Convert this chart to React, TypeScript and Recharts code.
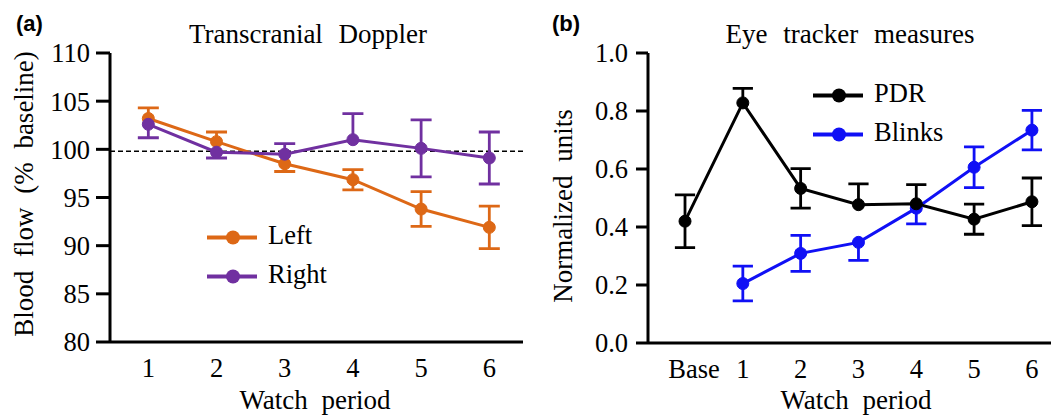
import React from 'react';
import { LineChart, Line, XAxis, YAxis, ReferenceLine, Legend } from 'recharts';

const SERIF = '"Liberation Serif", "Times New Roman", Times, serif';
const SANS = '"Liberation Sans", Arial, Helvetica, sans-serif';

const ORANGE = '#DD6816';
const PURPLE = '#7030A0';
const BLUE = '#1010F5';
const BLACK = '#000000';

// ---------- Panel (a): Transcranial Doppler ----------
const periodsA = [1, 2, 3, 4, 5, 6];
const yTicksA = [80, 85, 90, 95, 100, 105, 110];
const leftMean = [103.2, 100.8, 98.5, 96.85, 93.8, 91.9];
const leftErrUp = [1.1, 1.0, 0, 1.05, 1.8, 2.2];
const leftErrDown = [0, 0, 0.8, 1.05, 1.8, 2.2];
const rightMean = [102.6, 99.7, 99.5, 101.0, 100.1, 99.1];
const rightErrUp = [0, 0, 1.1, 2.7, 2.95, 2.7];
const rightErrDown = [1.4, 0.6, 0, 0, 2.95, 2.7];
const baselineA = 99.8;

// ---------- Panel (b): Eye tracker measures ----------
const periodsB = [0, 1, 2, 3, 4, 5, 6];
const periodLabelsB = ['Base', '1', '2', '3', '4', '5', '6'];
const yTicksB = [0, 0.2, 0.4, 0.6, 0.8, 1.0];
const pdrMean = [0.42, 0.828, 0.533, 0.477, 0.48, 0.427, 0.487];
const pdrErrUp = [0.091, 0.05, 0.068, 0.072, 0.066, 0.052, 0.082];
const pdrErrDown = [0.091, 0, 0.068, 0, 0, 0.052, 0.082];
const blinksMean: (number | null)[] = [null, 0.205, 0.309, 0.347, 0.465, 0.606, 0.734];
const blinksErrUp = [0, 0.06, 0.062, 0, 0, 0.07, 0.068];
const blinksErrDown = [0, 0.06, 0.062, 0.062, 0.054, 0.07, 0.068];

type Pt = { x: number; y: number | null };

function seriesPoints(xs: number[], ys: (number | null)[]): Pt[] {
  return xs.map((x, i) => ({ x, y: ys[i] }));
}

function errorBarPaths(
  xs: number[],
  ys: (number | null)[],
  up: number[],
  down: number[],
  cap: number
): Pt[][] {
  const out: Pt[][] = [];
  xs.forEach((x, i) => {
    const m = ys[i];
    if (m == null) return;
    const pts: Pt[] = [];
    if (up[i] > 0) {
      const t = m + up[i];
      pts.push({ x: x - cap, y: t }, { x: x + cap, y: t }, { x, y: t });
    }
    pts.push({ x, y: m });
    if (down[i] > 0) {
      const b = m - down[i];
      pts.push({ x, y: b }, { x: x - cap, y: b }, { x: x + cap, y: b });
    }
    if (pts.length > 1) out.push(pts);
  });
  return out;
}

const CAP_A = 0.154;
const CAP_B = 0.175;

const errA = [
  ...errorBarPaths(periodsA, leftMean, leftErrUp, leftErrDown, CAP_A).map((p) => ({ pts: p, color: ORANGE })),
  ...errorBarPaths(periodsA, rightMean, rightErrUp, rightErrDown, CAP_A).map((p) => ({ pts: p, color: PURPLE })),
];
const errB = [
  ...errorBarPaths(periodsB, blinksMean, blinksErrUp, blinksErrDown, CAP_B).map((p) => ({ pts: p, color: BLUE })),
  ...errorBarPaths(periodsB, pdrMean, pdrErrUp, pdrErrDown, CAP_B).map((p) => ({ pts: p, color: BLACK })),
];

const TICK_FS = 26.5;
const axisLineStyle = { stroke: '#000', strokeWidth: 3 };
const tickTextStyle = { fontSize: TICK_FS, fontFamily: SERIF, fill: '#000' };

const makeXTick = (labels?: string[], ticks?: number[]) => (props: any) => {
  const { x, y, payload } = props;
  const v = payload.value as number;
  let text = String(v);
  if (labels && ticks) {
    const idx = ticks.indexOf(v);
    if (idx >= 0) text = labels[idx];
  }
  const dx = labels && v === 0 ? 9 : 0;
  return (
    <text x={x + dx} y={y} dy="0.71em" textAnchor="middle" fontFamily={SERIF} fontSize={TICK_FS} fill="#000">
      {text}
    </text>
  );
};

const makeLegend = (order: string[]) => (props: any) => {
  const payload = (props.payload || []).filter((e: any) => order.includes(e.value));
  payload.sort((a: any, b: any) => order.indexOf(a.value) - order.indexOf(b.value));
  return (
    <div>
      {payload.map((e: any) => (
        <div key={e.value} style={{ display: 'flex', alignItems: 'center', height: 39 }}>
          <svg width={50} height={39} style={{ display: 'block' }}>
            <line x1={0} x2={50} y1={19.5} y2={19.5} stroke={e.color} strokeWidth={4} />
            <circle cx={26} cy={19.5} r={7} fill={e.color} />
          </svg>
          <span
            style={{
              marginLeft: 11,
              fontFamily: SERIF,
              fontSize: 26.5,
              color: '#000',
              lineHeight: '39px',
              position: 'relative',
              top: -2,
            }}
          >
            {e.value}
          </span>
        </div>
      ))}
    </div>
  );
};

const mainDot = (c: string) => ({ r: 6, fill: c, stroke: c, strokeWidth: 1 });

function ChartA() {
  return (
    <LineChart width={530} height={415} margin={{ top: 53, right: 7, bottom: 0, left: 0 }}>
      <XAxis
        type="number"
        dataKey="x"
        domain={[0.438, 6.494]}
        allowDataOverflow
        ticks={periodsA}
        interval={0}
        height={73}
        tickLine={false}
        tickSize={6}
        tickMargin={10}
        axisLine={axisLineStyle}
        tick={makeXTick()}
      />
      <YAxis
        type="number"
        domain={[80, 110]}
        allowDataOverflow
        ticks={yTicksA}
        interval={0}
        width={110}
        tickSize={14}
        tickMargin={6}
        tickLine={axisLineStyle}
        axisLine={axisLineStyle}
        tick={tickTextStyle}
      />
      <ReferenceLine y={baselineA} stroke="#000" strokeWidth={1.5} strokeDasharray="5 3" />
      {errA.map((e, i) => (
        <Line
          key={'ea' + i}
          data={e.pts}
          dataKey="y"
          type="linear"
          stroke={e.color}
          strokeWidth={2.8}
          dot={false}
          activeDot={false}
          legendType="none"
          isAnimationActive={false}
        />
      ))}
      <Line
        data={seriesPoints(periodsA, leftMean)}
        dataKey="y"
        name="Left"
        type="linear"
        stroke={ORANGE}
        strokeWidth={3}
        dot={mainDot(ORANGE)}
        activeDot={false}
        isAnimationActive={false}
      />
      <Line
        data={seriesPoints(periodsA, rightMean)}
        dataKey="y"
        name="Right"
        type="linear"
        stroke={PURPLE}
        strokeWidth={3}
        dot={mainDot(PURPLE)}
        activeDot={false}
        isAnimationActive={false}
      />
      <Legend
        layout="vertical"
        align="center"
        verticalAlign="middle"
        wrapperStyle={{ left: 207, top: 218, width: 'auto', height: 'auto' }}
        content={makeLegend(['Left', 'Right'])}
      />
    </LineChart>
  );
}

function ChartB() {
  return (
    <LineChart width={521} height={415} margin={{ top: 53, right: 0, bottom: 0, left: 0 }}>
      <XAxis
        type="number"
        dataKey="x"
        domain={[-0.64, 6.33]}
        allowDataOverflow
        ticks={periodsB}
        interval={0}
        height={72}
        tickLine={false}
        tickSize={6}
        tickMargin={10}
        axisLine={axisLineStyle}
        tick={makeXTick(periodLabelsB, periodsB)}
      />
      <YAxis
        type="number"
        domain={[0, 1]}
        allowDataOverflow
        ticks={yTicksB}
        interval={0}
        width={118}
        tickSize={12}
        tickMargin={8}
        tickLine={axisLineStyle}
        axisLine={axisLineStyle}
        tick={tickTextStyle}
        tickFormatter={(v: number) => v.toFixed(1)}
      />
      {errB.map((e, i) => (
        <Line
          key={'eb' + i}
          data={e.pts}
          dataKey="y"
          type="linear"
          stroke={e.color}
          strokeWidth={2.8}
          dot={false}
          activeDot={false}
          legendType="none"
          isAnimationActive={false}
        />
      ))}
      <Line
        data={seriesPoints(periodsB, blinksMean)}
        dataKey="y"
        name="Blinks"
        type="linear"
        stroke={BLUE}
        strokeWidth={3}
        dot={mainDot(BLUE)}
        activeDot={false}
        isAnimationActive={false}
      />
      <Line
        data={seriesPoints(periodsB, pdrMean)}
        dataKey="y"
        name="PDR"
        type="linear"
        stroke={BLACK}
        strokeWidth={3}
        dot={mainDot(BLACK)}
        activeDot={false}
        isAnimationActive={false}
      />
      <Legend
        layout="vertical"
        align="center"
        verticalAlign="middle"
        wrapperStyle={{ left: 283, top: 76, width: 'auto', height: 'auto' }}
        content={makeLegend(['PDR', 'Blinks'])}
      />
    </LineChart>
  );
}

const titleStyle: React.CSSProperties = { fontFamily: SERIF, fontSize: 27, fill: '#000', wordSpacing: '9px' } as any;
const axisTitleStyle: React.CSSProperties = { fontFamily: SERIF, fontSize: 27, fill: '#000', wordSpacing: '7px' } as any;

export default function App() {
  return (
    <div style={{ position: 'absolute', left: 0, top: 0, width: 1051, height: 415, background: '#fff', overflow: 'hidden' }}>
      <div style={{ position: 'absolute', left: 0, top: 0 }}>
        <ChartA />
      </div>
      <div style={{ position: 'absolute', left: 530, top: 0 }}>
        <ChartB />
      </div>
      <svg width={1051} height={415} style={{ position: 'absolute', left: 0, top: 0, pointerEvents: 'none' }}>
        <text x={16} y={30.5} fontFamily={SANS} fontWeight="bold" fontSize={22} fill="#000">(a)</text>
        <text x={552} y={30.5} fontFamily={SANS} fontWeight="bold" fontSize={22} fill="#000">(b)</text>
        <text x={308} y={43} textAnchor="middle" style={titleStyle}>Transcranial Doppler</text>
        <text x={850} y={43} textAnchor="middle" style={titleStyle}>Eye tracker measures</text>
        <text x={33} y={194} textAnchor="middle" transform="rotate(-90, 33, 194)" style={axisTitleStyle}>
          Blood flow (% baseline)
        </text>
        <text x={572} y={206} textAnchor="middle" transform="rotate(-90, 572, 206)" style={axisTitleStyle}>
          Normalized units
        </text>
        <text x={315} y={409} textAnchor="middle" style={axisTitleStyle}>Watch period</text>
        <text x={856} y={409} textAnchor="middle" style={axisTitleStyle}>Watch period</text>
      </svg>
    </div>
  );
}
